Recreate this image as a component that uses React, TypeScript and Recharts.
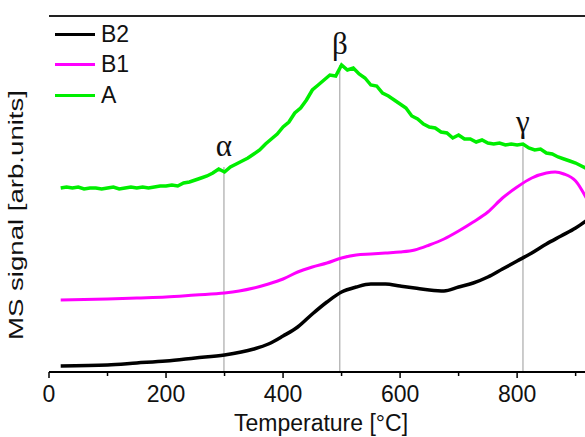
import React from "react";
import { Label, Legend, Line, LineChart, ReferenceLine, XAxis, YAxis } from "recharts";

// sample A (green, noisy signal), read every 10 °C
const tempsA = [
  20, 30, 40, 50, 60, 70, 80, 90, 100, 110, 120, 130, 140, 150, 160, 170, 180, 190, 200, 210,
  220, 230, 240, 250, 260, 270, 280, 290, 300, 310, 320, 330, 340, 350, 360, 370, 380, 390, 400, 410,
  420, 430, 440, 450, 460, 470, 480, 490, 500, 510, 520, 530, 540, 550, 560, 570, 580, 590, 600, 610,
  620, 630, 640, 650, 660, 670, 680, 690, 700, 710, 720, 730, 740, 750, 760, 770, 780, 790, 800, 810,
  820, 830, 840, 850, 860, 870, 880, 890, 900, 910, 920,
];
const signalA = [
  184, 185, 184, 185, 183, 184, 184, 183, 184, 185, 183, 184, 185, 184, 185, 184, 185, 186, 186, 187,
  186, 189, 190, 192, 194, 196, 199, 203, 200, 205, 208, 211, 214, 218, 222, 228, 233, 238, 245, 250,
  259, 264, 272, 282, 287, 292, 297, 296, 307, 302, 304, 298, 294, 287, 286, 279, 276, 272, 268, 264,
  256, 253, 248, 245, 244, 240, 239, 234, 237, 233, 233, 230, 232, 229, 228, 229, 227, 228, 227, 228,
  224, 222, 223, 219, 218, 215, 213, 211, 209, 206, 203,
];

const tempsB1 = [20, 100, 150, 200, 250, 300, 325, 350, 375, 400, 425, 450, 475, 500, 525, 550, 575, 600, 625, 650, 675, 700, 725, 750, 775, 800, 825, 850, 865, 880, 900, 920];
const signalB1 = [72, 73, 74, 75, 77, 79, 81, 84, 88, 93, 100, 105, 109, 114, 117, 118, 119, 120, 122, 127, 133, 141, 150, 160, 174, 185, 194, 199, 200, 198, 191, 172];

const tempsB2 = [20, 100, 150, 200, 250, 300, 350, 375, 400, 425, 450, 475, 500, 525, 550, 575, 600, 625, 650, 675, 700, 725, 750, 775, 800, 825, 850, 875, 900, 920];
const signalB2 = [6, 7, 9, 11, 14, 17, 23, 28, 36, 45, 58, 70, 80, 85, 88, 88, 86, 84, 82, 81, 85, 89, 95, 103, 111, 119, 128, 136, 144, 152];

// marked peaks: temperature, symbol, signal of A where the marker line ends
const peakTemps = [299, 497, 810];
const peakNames = ["α", "β", "γ"];
const peakTops = [205, 307, 229];

const xTicks = [0, 100, 200, 300, 400, 500, 600, 700, 800, 900];
const legendNames = ["B2", "B1", "A"];
const legendColors = ["#000000", "#ff00ff", "#00ee00"];

const toRows = (t: number[], v: number[]) => t.map((x, i) => ({ t: x, v: v[i] }));
const dataA = toRows(tempsA, signalA);
const dataB1 = toRows(tempsB1, signalB1);
const dataB2 = toRows(tempsB2, signalB2);

const FONT = "'Liberation Sans', Arial, sans-serif";

const XTick = (props: any) => {
  const { x, y, payload } = props;
  const major = payload.value % 200 === 0;
  return (
    <g>
      <line x1={x} x2={x} y1={y} y2={y + (major ? 6 : 4)} stroke="#000" strokeWidth={1.5} />
      {major && (
        <text x={x} y={y + 30} textAnchor="middle" fontFamily={FONT} fontSize={23} fill="#111">
          {payload.value}
        </text>
      )}
    </g>
  );
};

// axis titles, placed from the x axis box (plot spans 16..372 vertically)
const AxisTitles = (props: any) => {
  const vb = props.viewBox;
  const cx = vb.x - 26;
  const cy = vb.y - 157;
  return (
    <g>
      <text x={vb.x + vb.width / 2 + 4} y={vb.y + 59} textAnchor="middle" fontFamily={FONT} fontSize={23} fill="#111">
        Temperature [°C]
      </text>
      <text
        x={cx}
        y={cy}
        transform={`rotate(-90 ${cx} ${cy})`}
        textAnchor="middle"
        textLength={250}
        lengthAdjust="spacingAndGlyphs"
        fontFamily={FONT}
        fontSize={20}
        fill="#111"
      >
        MS signal [arb.units]
      </text>
    </g>
  );
};

const LegendBox = () => (
  <div style={{ fontFamily: FONT, fontSize: 23, color: "#111" }}>
    {legendNames.map((n, i) => (
      <div key={n} style={{ display: "flex", alignItems: "center", height: 30.5 }}>
        <span style={{ display: "inline-block", width: 40, height: 3, background: legendColors[i], marginRight: 6 }} />
        <span>{n}</span>
      </div>
    ))}
  </div>
);

export default function App() {
  return (
    <div style={{ position: "absolute", left: 0, top: 0, width: 585, height: 437, overflow: "hidden", background: "#fff" }}>
      <LineChart width={585} height={437} margin={{ top: 16, right: 0, bottom: 0, left: 49 }}>
        <XAxis
          dataKey="t"
          type="number"
          domain={[0, 916]}
          allowDataOverflow
          ticks={xTicks}
          interval={0}
          tick={<XTick />}
          tickLine={false}
          tickSize={0}
          tickMargin={0}
          height={65}
          axisLine={{ stroke: "#000", strokeWidth: 2 }}
        >
          <Label content={<AxisTitles />} />
        </XAxis>
        <YAxis
          type="number"
          domain={[0, 356]}
          allowDataOverflow
          width={0}
          tick={false}
          tickLine={false}
          axisLine={{ stroke: "#000", strokeWidth: 2 }}
        />
        <ReferenceLine y={356} stroke="#222" strokeWidth={2} ifOverflow="visible" />
        {peakTemps.map((t, i) => (
          <ReferenceLine
            key={peakNames[i]}
            segment={[{ x: t, y: 0 }, { x: t, y: peakTops[i] }]}
            stroke="#999"
            strokeWidth={1}
            ifOverflow="visible"
            label={{
              value: peakNames[i],
              position: "top",
              offset: 11,
              fontFamily: "'Liberation Serif', 'Times New Roman', serif",
              fontSize: 31,
              fill: "#111",
            }}
          />
        ))}
        <Line data={dataA} dataKey="v" name="A" type="linear" stroke="#00ee00" strokeWidth={3.5} dot={false} isAnimationActive={false} />
        <Line data={dataB1} dataKey="v" name="B1" type="monotone" stroke="#ff00ff" strokeWidth={3} dot={false} isAnimationActive={false} />
        <Line data={dataB2} dataKey="v" name="B2" type="monotone" stroke="#000000" strokeWidth={3.5} dot={false} isAnimationActive={false} />
        <Legend
          layout="vertical"
          align="center"
          verticalAlign="middle"
          content={<LegendBox />}
          wrapperStyle={{ left: 55, top: 19, width: 120 }}
        />
      </LineChart>
    </div>
  );
}
